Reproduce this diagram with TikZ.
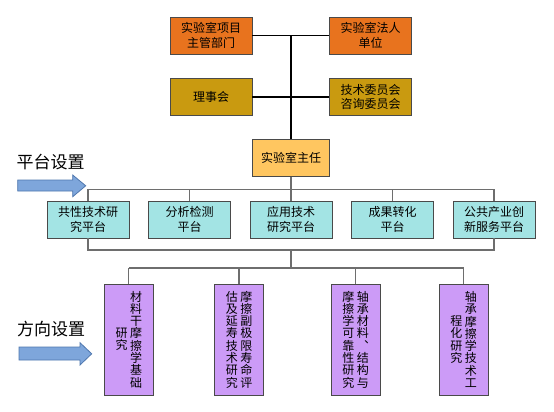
\documentclass[tikz,border=0pt]{standalone}
\usepackage{fontspec}
\setmainfont{Noto Sans CJK SC}
\usepackage{graphicx}
\definecolor{orangeF}{HTML}{E8731E}
\definecolor{goldF}{HTML}{C99A10}
\definecolor{chiefF}{HTML}{FFC660}
\definecolor{platF}{HTML}{A3E4E4}
\definecolor{dirF}{HTML}{CC9BF7}
\definecolor{arrowF}{HTML}{7EA6DB}
\definecolor{arrowE}{HTML}{4F77AE}
\definecolor{boxedge}{HTML}{4A4A4A}
\definecolor{linkC}{HTML}{6E6E6E}
\newcommand\vcol[1]{\parbox[c]{12pt}{\centering\fontsize{12}{12.3}\selectfont #1}}
\newcommand\vcomma{︑}
\begin{document}
\begin{tikzpicture}[x=1pt,y=-1pt,
  tbox/.style={draw=boxedge, line width=0.9pt, align=center, inner sep=0pt,
    font=\fontsize{12}{14.5}\selectfont, minimum height=37pt},
  orangebox/.style={tbox, fill=orangeF, minimum width=82pt},
  goldbox/.style={tbox, fill=goldF, minimum width=82pt},
  chiefbox/.style={tbox, fill=chiefF, minimum width=77pt},
  platbox/.style={tbox, fill=platF, minimum width=82pt},
  dirbox/.style={tbox, fill=dirF, minimum width=49pt, minimum height=111pt},
  topline/.style={line width=1.8pt, black},
  link/.style={line width=1.2pt, linkC},
  bigarrow/.style={fill=arrowF, draw=arrowE, line width=0.8pt},
  sidelabel/.style={font=\fontsize{17}{17}\selectfont}]
\fill[white] (0,0) rectangle (554,412);
\useasboundingbox (0,0) rectangle (554,412);

% top level
\node[orangebox] (a1) at (211,35.5) {实验室项目\\主管部门};
\node[orangebox] (a2) at (370.5,35.5) {实验室法人\\单位};
\node[goldbox] (b1) at (211,97) {理事会};
\node[goldbox] (b2) at (370.5,97) {技术委员会\\咨询委员会};
\node[chiefbox] (dir) at (291,158.3) {实验室主任};

% platforms
\node[platbox] (p1) at (88,219.5) {共性技术研\\究平台};
\node[platbox] (p2) at (189.5,219.5) {分析检测\\平台};
\node[platbox] (p3) at (291,219.5) {应用技术\\研究平台};
\node[platbox] (p4) at (392.5,219.5) {成果转化\\平台};
\node[platbox] (p5) at (494,219.5) {公共产业创\\新服务平台};

% directions
\node[dirbox] (d1) at (128.8,339.5) {\vcol{研\\究}\hspace{2.5pt}\vcol{材\\料\\干\\摩\\擦\\学\\基\\础}};
\node[dirbox] (d2) at (239,339.5) {\vcol{估\\及\\延\\寿\\技\\术\\研\\究}\hspace{2.5pt}\vcol{摩\\擦\\副\\极\\限\\寿\\命\\评}};
\node[dirbox] (d3) at (355.5,339.5) {\vcol{摩\\擦\\学\\可\\靠\\性\\研\\究}\hspace{2.5pt}\vcol{轴\\承\\材\\料\\\vcomma\\结\\构\\与}};
\node[dirbox] (d4) at (463.5,339.5) {\vcol{程\\化\\研\\究}\hspace{2.5pt}\vcol{轴\\承\\摩\\擦\\学\\技\\术\\工}};

% side labels and arrows
\node[sidelabel] (l1) at (50.5,162) {平台设置};
\node[sidelabel] (l2) at (51,329.5) {方向设置};
\draw[bigarrow] (17.7,180) -- (72.7,180) -- (72.7,175) -- (85.7,185.8) -- (72.7,196.7) -- (72.7,191) -- (17.7,191) -- cycle;
\draw[bigarrow] (19,347) -- (80,347) -- (80,342.7) -- (91.7,353.8) -- (80,365) -- (80,360) -- (19,360) -- cycle;

% bars
\coordinate (pbar) at (0,189.3);
\coordinate (bbar) at (0,250);
\coordinate (dbar) at (0,268);

% top connectors
\draw[topline] (a1.east) -- (a2.west);
\draw[topline] (b1.east) -- (b2.west);
\draw[topline] (a1.east -| dir.north) -- (dir.north);

% platform connectors
\draw[link] (dir.south) -- (dir.south |- pbar);
\draw[link] (p1.north |- pbar) -- (p5.north |- pbar);
\foreach \i in {1,...,5} \draw[link] (p\i.north |- pbar) -- (p\i.north);
\draw[link] (p1.south) -- (p1.south |- bbar) -- (p5.south |- bbar) -- (p5.south);
\draw[link] (dir.south |- bbar) -- (dir.south |- dbar);

% direction connectors
\draw[link] (d1.north |- dbar) -- (d4.north |- dbar);
\foreach \i in {1,...,4} \draw[link] (d\i.north |- dbar) -- (d\i.north);
\end{tikzpicture}
\end{document}
